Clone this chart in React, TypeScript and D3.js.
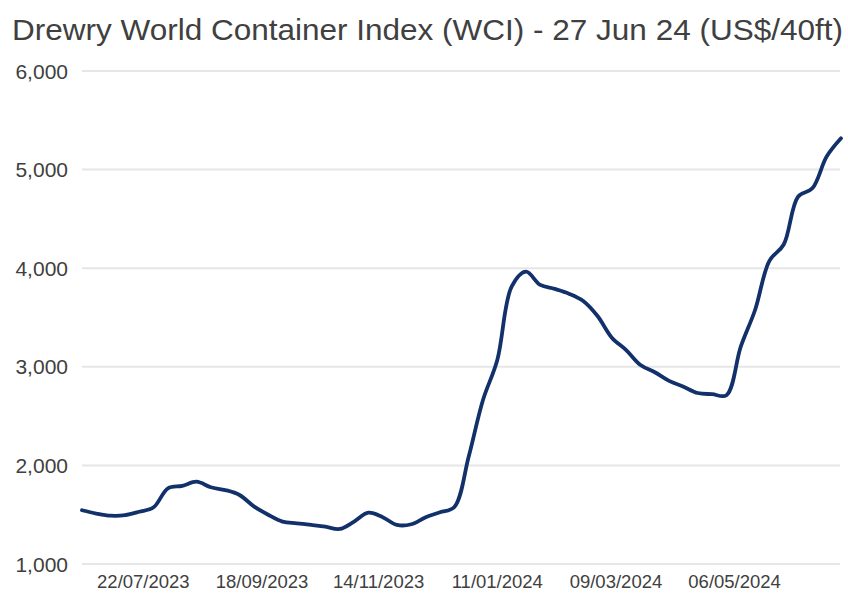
import * as d3 from 'd3';

const title = 'Drewry World Container Index (WCI) - 27 Jun 24 (US$/40ft)';

const weeks = [
  '2023-06-22', '2023-06-29', '2023-07-06', '2023-07-13', '2023-07-20', '2023-07-27',
  '2023-08-03', '2023-08-10', '2023-08-17', '2023-08-24', '2023-08-31', '2023-09-07',
  '2023-09-14', '2023-09-21', '2023-09-28', '2023-10-05', '2023-10-12', '2023-10-19',
  '2023-10-26', '2023-11-02', '2023-11-09', '2023-11-16', '2023-11-23', '2023-11-30',
  '2023-12-07', '2023-12-14', '2023-12-21', '2023-12-28', '2024-01-04', '2024-01-11',
  '2024-01-18', '2024-01-25', '2024-02-01', '2024-02-08', '2024-02-15', '2024-02-22',
  '2024-02-29', '2024-03-07', '2024-03-14', '2024-03-21', '2024-03-28', '2024-04-04',
  '2024-04-11', '2024-04-18', '2024-04-25', '2024-05-02', '2024-05-09', '2024-05-16',
  '2024-05-23', '2024-05-30', '2024-06-06', '2024-06-13', '2024-06-20', '2024-06-27',
];

const wci = [
  1545, 1512, 1490, 1495, 1530, 1575,
  1768, 1792, 1835, 1778, 1750, 1700,
  1585, 1500, 1430, 1413, 1396, 1378,
  1355, 1430, 1520, 1474, 1396, 1403,
  1474, 1525, 1578, 2088, 2663, 3069,
  3812, 3965, 3830, 3790, 3742, 3668,
  3515, 3295, 3170, 3018, 2945, 2857,
  2798, 2734, 2722, 2712, 3204, 3576,
  4075, 4240, 4725, 4810, 5132, 5317,
];

const xTickDates = ['2023-07-22', '2023-09-18', '2023-11-14', '2024-01-11', '2024-03-09', '2024-05-06'];
const yTicks = [1000, 2000, 3000, 4000, 5000, 6000];

const W = 848;
const H = 594;
const left = 82;
const right = 841;
const top = 71;
const bottom = 564;

const parse = d3.utcParse('%Y-%m-%d');
const fmtX = d3.utcFormat('%d/%m/%Y');
const fmtY = d3.format(',');

export default function App() {
  const dates = weeks.map((d) => parse(d) as Date);
  const x = d3.scaleUtc().domain([dates[0], dates[dates.length - 1]]).range([left, right]);
  const y = d3.scaleLinear().domain([1000, 6000]).range([bottom, top]);

  const points = dates.map((d, i) => [d, wci[i]] as [Date, number]);
  const line = d3
    .line<[Date, number]>()
    .x((d) => x(d[0]))
    .y((d) => y(d[1]))
    .curve(d3.curveCatmullRom.alpha(0.5));

  const textColor = '#404040';
  const font = '"Liberation Sans", Arial, sans-serif';

  return (
    <svg
      width={W}
      height={H}
      style={{ position: 'absolute', left: 0, top: 0, background: '#fff' }}
      fontFamily={font}
    >
      <rect width={W} height={H} fill="#fff" />
      <text x={12} y={40} fontSize={29} fill={textColor} textLength={831} lengthAdjust="spacingAndGlyphs">
        {title}
      </text>

      {yTicks.map((t) => (
        <g key={t}>
          <line x1={left} x2={right - 1} y1={y(t)} y2={y(t)} stroke="#e6e6e6" strokeWidth={2} />
          <text x={68} y={y(t)} dy="0.36em" textAnchor="end" fontSize={21} fill={textColor}>
            {fmtY(t)}
          </text>
        </g>
      ))}

      {xTickDates.map((s) => {
        const d = parse(s) as Date;
        return (
          <text key={s} x={x(d)} y={588} textAnchor="middle" fontSize={18.5} fill={textColor}>
            {fmtX(d)}
          </text>
        );
      })}

      <path d={line(points) ?? ''} fill="none" stroke="#12306a" strokeWidth={3.8} strokeLinejoin="round" strokeLinecap="round" />
    </svg>
  );
}
